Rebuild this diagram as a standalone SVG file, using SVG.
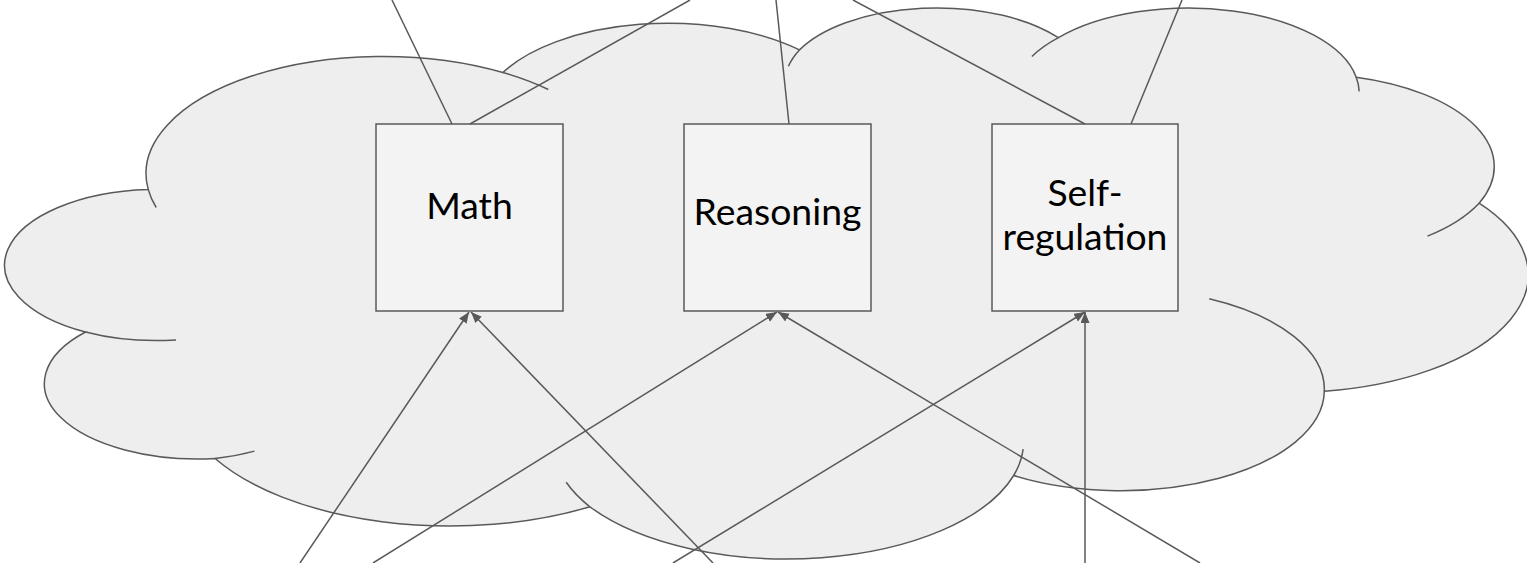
<svg xmlns="http://www.w3.org/2000/svg" width="1527" height="563" viewBox="0 0 1527 563">
  <style>
    .cloud { fill: #eeeeee; stroke: #595959; stroke-width: 1.5; }
    .inner { fill: none; stroke: #595959; stroke-width: 1.5; }
    .box { fill: #f3f3f3; stroke: #595959; stroke-width: 1.5; }
    .lbl { font-family: Lato, "Liberation Sans", sans-serif; font-size: 37.33px; fill: #000000; text-anchor: middle; }
    .edge { stroke: #595959; stroke-width: 1.5; fill: none; }
  </style>
  <defs>
    <marker id="arr" markerUnits="userSpaceOnUse" markerWidth="12" markerHeight="10" refX="11" refY="4.5" orient="auto">
      <path d="M0,0 L11,4.5 L0,9 Z" fill="#595959"/>
    </marker>
  </defs>
  <g id="cloud">
    <path class="cloud" d="M 148.2 189.4 A 237.0 117.2 0 0 1 502.9 72.5 A 187.2 92.7 0 0 1 799.5 49.9 A 153.2 75.8 0 0 1 1058.4 37.7 A 170.5 84.1 0 0 1 1356.2 77.2 A 187.2 92.7 0 0 1 1479.1 203.2 A 237.8 117.6 0 0 1 1324.3 391.2 A 203.1 100.3 0 0 1 1013.7 475.5 A 237.0 117.5 0 0 1 589.9 506.8 A 271.0 134.4 0 0 1 215.1 458.5 A 153.0 75.5 0 0 1 85.5 332.0 A 152.5 75.8 0 0 1 148.2 189.4 Z"/>
    <path class="inner" d="M 176.0 339.9 A 152.5 75.8 0 0 1 85.5 332.0 M 254.5 451.1 A 153.0 75.5 0 0 1 215.1 458.5 M 589.9 506.8 A 237.0 117.5 0 0 1 566.2 482.3 M 1023.1 449.2 A 237.0 117.5 0 0 1 1013.7 475.5 M 1209.2 298.8 A 203.1 100.3 0 0 1 1324.3 391.2 M 1479.1 203.2 A 187.2 92.7 0 0 1 1427.5 236.1 M 1356.2 77.2 A 170.5 84.1 0 0 1 1359.2 91.4 M 1031.9 56.5 A 170.5 84.1 0 0 1 1058.4 37.7 M 788.4 66.3 A 153.2 75.8 0 0 1 799.5 49.9 M 502.9 72.5 A 237.0 117.2 0 0 1 548.3 89.5 M 156.2 207.5 A 237.0 117.2 0 0 1 148.2 189.4"/>
  </g>
  <g id="math">
    <rect class="box" x="376" y="124" width="187" height="187"/>
    <text class="lbl" x="469.5" y="219">Math</text>
  </g>
  <g id="reasoning">
    <rect class="box" x="684" y="124" width="187" height="187"/>
    <text class="lbl" x="777.5" y="225">Reasoning</text>
  </g>
  <g id="selfregulation">
    <rect class="box" x="992" y="124" width="186" height="187"/>
    <text class="lbl" x="1085" y="206">Self-</text>
    <text class="lbl" x="1085" y="250">regulation</text>
  </g>
  <g id="connectors">
    <line class="edge" x1="452" y1="124" x2="392" y2="0"/>
    <line class="edge" x1="470" y1="124" x2="690" y2="0"/>
    <line class="edge" x1="789" y1="124" x2="776" y2="0"/>
    <line class="edge" x1="1085" y1="124" x2="853" y2="0"/>
    <line class="edge" x1="1131" y1="124" x2="1182" y2="0"/>
    <line class="edge" x1="300" y1="563" x2="469" y2="312" marker-end="url(#arr)"/>
    <line class="edge" x1="373" y1="563" x2="777" y2="312" marker-end="url(#arr)"/>
    <line class="edge" x1="713" y1="563" x2="471" y2="312" marker-end="url(#arr)"/>
    <line class="edge" x1="673" y1="563" x2="1085" y2="312" marker-end="url(#arr)"/>
    <line class="edge" x1="1200" y1="563" x2="778" y2="312" marker-end="url(#arr)"/>
    <line class="edge" x1="1085" y1="563" x2="1085" y2="312" marker-end="url(#arr)"/>
  </g>
</svg>
